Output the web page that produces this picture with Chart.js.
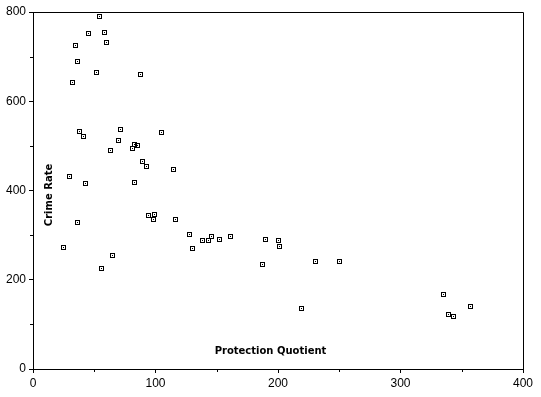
<!DOCTYPE html>
<html>
<head>
<meta charset="utf-8">
<script src="https://cdn.jsdelivr.net/npm/chart.js@4/dist/chart.umd.min.js"></script>
<style>
  html, body { margin: 0; padding: 0; background: #fff; }
  #wrap { width: 541px; height: 397px; position: relative; }
</style>
</head>
<body>
<div id="wrap"><canvas id="c" width="541" height="397"></canvas></div>
<script>
// Data
const protectionQuotient = [54, 45, 58, 60, 34.5, 36.5, 52, 87.5, 32.5, 38, 41, 71.5, 70, 63.5, 83, 85.5, 81.5, 105, 89, 93, 115, 29.5, 43, 83, 36.5, 25, 56, 65, 94, 99.5, 98.5, 116.5, 128, 130, 138, 143.5, 145.5, 152, 161.5, 190, 200, 201, 187, 231, 250, 219, 335, 357, 339, 343];
const crimeRate = [789, 751, 753, 731, 724, 688, 664, 661, 641, 533, 522, 536, 511, 489, 504, 500, 493, 529, 466, 453, 448, 432, 415, 417, 329, 273, 226, 255, 343, 347, 334, 334, 302, 269, 289, 289, 296, 291, 296, 291, 289, 275, 235, 240, 240, 136, 168, 141, 123, 118];
const xTickLabels = [0, 100, 200, 300, 400];
const yTickLabels = [0, 200, 400, 600, 800];
const xTitle = 'Protection Quotient';
const yTitle = 'Crime Rate';

const points = protectionQuotient.map((x, i) => ({ x: x, y: crimeRate[i] }));

// marker: 5x5 square outline with centre dot
const marker = document.createElement('canvas');
marker.width = 5; marker.height = 5;
(function () {
  const m = marker.getContext('2d');
  m.fillStyle = '#000';
  m.fillRect(0, 0, 5, 1); m.fillRect(0, 4, 5, 1);
  m.fillRect(0, 0, 1, 5); m.fillRect(4, 0, 1, 5);
  m.fillRect(2, 2, 1, 1);
})();

// snap marker centres to pixel centres so the bitmap markers stay crisp
const snapPoints = {
  id: 'snapPoints',
  beforeDatasetsDraw(chart) {
    chart.data.datasets.forEach((ds, i) => {
      chart.getDatasetMeta(i).data.forEach(el => {
        el.x = Math.floor(el.x) + 0.5;
        el.y = Math.floor(el.y) + 0.5;
      });
    });
  }
};

const frameAndTitles = {
  id: 'frameAndTitles',
  afterDraw(chart) {
    const ctx = chart.ctx;
    const a = chart.chartArea;
    const xs = chart.scales.x, ys = chart.scales.y;
    ctx.save();
    ctx.strokeStyle = '#000';
    ctx.lineWidth = 1;
    // top & right frame lines
    ctx.beginPath();
    ctx.moveTo(Math.round(a.left) + 0.5, Math.round(a.top) + 0.5);
    ctx.lineTo(Math.round(a.right) + 0.5, Math.round(a.top) + 0.5);
    ctx.lineTo(Math.round(a.right) + 0.5, Math.round(a.bottom) + 0.5);
    ctx.stroke();
    // minor ticks
    ctx.beginPath();
    for (let v = 50; v < 400; v += 100) {
      const px = Math.round(xs.getPixelForValue(v)) + 0.5;
      ctx.moveTo(px, Math.round(a.bottom));
      ctx.lineTo(px, Math.round(a.bottom) + 3);
    }
    for (let v = 100; v < 800; v += 200) {
      const py = Math.round(ys.getPixelForValue(v)) + 0.5;
      ctx.moveTo(Math.round(a.left), py);
      ctx.lineTo(Math.round(a.left) - 3, py);
    }
    ctx.stroke();
    // axis titles inside plot
    ctx.fillStyle = '#000';
    ctx.font = 'bold 10px "DejaVu Sans", sans-serif';
    ctx.textAlign = 'center';
    ctx.textBaseline = 'middle';
    ctx.fillText(xTitle, 270.5, 351.5);
    ctx.translate(49.5, 195);
    ctx.rotate(-Math.PI / 2);
    ctx.fillText(yTitle, 0, 0);
    ctx.restore();
  }
};

new Chart(document.getElementById('c'), {
  type: 'scatter',
  data: {
    datasets: [{
      data: points,
      pointStyle: marker,
      pointRadius: 3,
      pointHoverRadius: 3,
      borderColor: '#000',
      backgroundColor: '#fff'
    }]
  },
  options: {
    responsive: false,
    animation: false,
    events: [],
    layout: { padding: { top: 12, right: 18, left: 0, bottom: 0 } },
    plugins: { legend: { display: false }, tooltip: { enabled: false }, title: { display: false } },
    scales: {
      x: {
        type: 'linear',
        min: 0, max: 400,
        afterBuildTicks(scale) { scale.ticks = xTickLabels.map(v => ({ value: v })); },
        afterFit(scale) { scale.height = 28; },
        border: { display: true, color: '#000', width: 1 },
        grid: { drawOnChartArea: false, drawTicks: true, tickLength: 4, color: '#000' },
        ticks: { color: '#000', padding: 3, maxRotation: 0, font: { family: '"Liberation Sans", Arial, sans-serif', size: 12 } }
      },
      y: {
        type: 'linear',
        min: 0, max: 800,
        afterBuildTicks(scale) { scale.ticks = yTickLabels.map(v => ({ value: v })); },
        afterFit(scale) { scale.width = 33; },
        border: { display: true, color: '#000', width: 1 },
        grid: { drawOnChartArea: false, drawTicks: true, tickLength: 4, color: '#000' },
        ticks: { color: '#000', padding: 3, font: { family: '"Liberation Sans", Arial, sans-serif', size: 12 } }
      }
    }
  },
  plugins: [snapPoints, frameAndTitles]
});
</script>
</body>
</html>
